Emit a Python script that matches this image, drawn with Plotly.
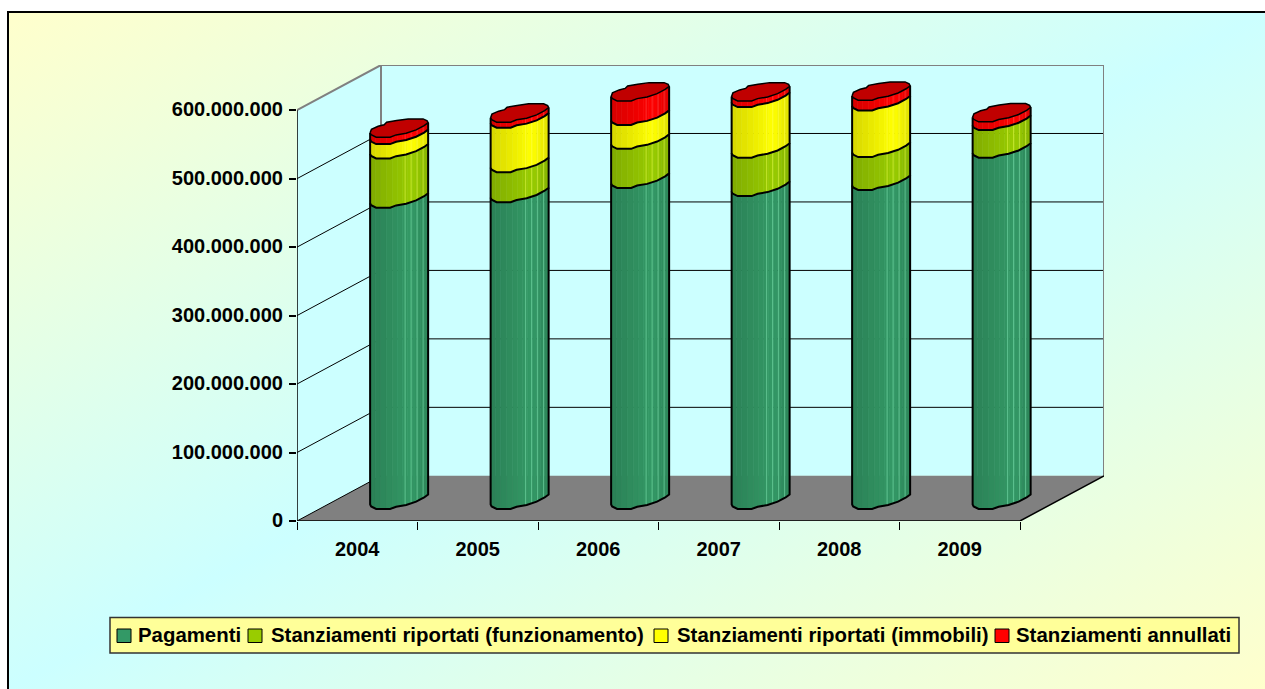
import base64
import plotly.graph_objects as go

# ---- data ----
years = ["2004", "2005", "2006", "2007", "2008", "2009"]
pagamenti = [440e6, 448e6, 469e6, 457e6, 466e6, 513e6]
funzionamento = [72e6, 44e6, 57e6, 56e6, 48e6, 40.5e6]
immobili = [21e6, 65e6, 35e6, 74e6, 68e6, 0]
annullati = [10e6, 8e6, 35e6, 9e6, 15e6, 12e6]
y_ticks = [0, 100e6, 200e6, 300e6, 400e6, 500e6, 600e6]
series_names = ["Pagamenti", "Stanziamenti riportati (funzionamento)",
                "Stanziamenti riportati (immobili)", "Stanziamenti annullati"]
series_colors = [(0x33, 0x99, 0x66), (0x99, 0xCC, 0x00), (0xFF, 0xFF, 0x00), (0xFF, 0x00, 0x00)]
series_values = [pagamenti, funzionamento, immobili, annullati]
legend_text_x = [137, 270, 676, 1015]
legend_swatch_x = [117, 248, 654, 995]

# ---- frame of the pseudo-3D box, in axis units ----
PLOT_L, PLOT_R, PLOT_T, PLOT_B = 297, 1104, 65, 521
X_MAX_FRONT = len(years)
PX_PER_X = 120.5
DEPTH_X = 84 / PX_PER_X
Y_RANGE = 666e6
PX_PER_Y = (PLOT_B - PLOT_T) / Y_RANGE
DEPTH_Y = 66e6
TOP = 600e6
FOOT_Y = 21 / PX_PER_Y

# low-poly outline of the cylinder cross-section, offsets in screen pixels (+x right, +y down)
FRONT_ARC = [(-29, 4.5), (-28, 6.5), (-23, 9), (-9, 9), (-3, 6.7), (7, 5), (17, 1.7), (25, -2.5), (29, -5.5)]
BACK_ARC = [(29, -5.5), (28, -7.5), (24, -9.3), (9, -9.3), (-2.5, -7.7), (-12.5, -5.9),
            (-15, -3.5), (-21, -2), (-27.7, 1), (-29, 4.5)]
FACET_X = [-29, -24, -19, -13, -7, -2, 3, 8, 13, 17, 21, 25, 29]
HIGHLIGHT_X = [6, 12, 18, 24]


def arc_dy(px):
    for (x0, y0), (x1, y1) in zip(FRONT_ARC, FRONT_ARC[1:]):
        if x0 <= px <= x1:
            return y0 + (y1 - y0) * (px - x0) / (x1 - x0)
    return FRONT_ARC[-1][1]


def ox(cx, dx):
    return cx + dx / PX_PER_X


def oy(base, dy):
    return base + FOOT_Y - dy / PX_PER_Y


def poly(xs, ys, fill, line=None, width=0):
    return go.Scatter(x=xs, y=ys, mode="lines", fill="toself", fillcolor=fill,
                      line=dict(color=line or fill, width=width), hoverinfo="skip",
                      showlegend=False, cliponaxis=False)


def stroke(xs, ys, color, width):
    return go.Scatter(x=xs, y=ys, mode="lines", line=dict(color=color, width=width),
                      hoverinfo="skip", showlegend=False, cliponaxis=False)


WALL = "#CCFFFF"
traces = []
traces.append(poly([0, DEPTH_X, DEPTH_X, 0], [0, DEPTH_Y, TOP + DEPTH_Y, TOP], WALL))
traces.append(poly([DEPTH_X, X_MAX_FRONT + DEPTH_X, X_MAX_FRONT + DEPTH_X, DEPTH_X],
                   [DEPTH_Y, DEPTH_Y, TOP + DEPTH_Y, TOP + DEPTH_Y], WALL))
gx, gy = [], []
for v in y_ticks[1:-1]:
    gx += [0, DEPTH_X, X_MAX_FRONT + DEPTH_X, None]
    gy += [v, v + DEPTH_Y, v + DEPTH_Y, None]
traces.append(stroke(gx, gy, "#000000", 1))
traces.append(poly([0, X_MAX_FRONT, X_MAX_FRONT + DEPTH_X, DEPTH_X],
                   [0, 0, DEPTH_Y, DEPTH_Y], "#808080"))
traces.append(stroke([0, DEPTH_X, X_MAX_FRONT + DEPTH_X, X_MAX_FRONT + DEPTH_X],
                     [TOP, TOP + DEPTH_Y, TOP + DEPTH_Y, DEPTH_Y], "#808080", 2))
traces.append(stroke([DEPTH_X, DEPTH_X], [DEPTH_Y, TOP + DEPTH_Y], "#808080", 2))
traces.append(stroke([0, 0, X_MAX_FRONT, X_MAX_FRONT + DEPTH_X],
                     [TOP, 0, 0, DEPTH_Y], "#000000", 1.5))
traces.append(stroke([0, DEPTH_X], [0, DEPTH_Y], "#000000", 1))


def shade(f):
    return 0.84 + 0.16 * f / 0.72 if f < 0.72 else 1 - 0.12 * (f - 0.72) / 0.28


cumulative = [0.0] * len(years)
tops = [sum(s[i] for s in series_values) for i in range(len(years))]
centers = [i + 0.5 + (DEPTH_X - 0.25 / PX_PER_X) / 2 for i in range(len(years))]

for s_idx, vals in enumerate(series_values):
    col = series_colors[s_idx]
    outline_x, outline_y, hi_x, hi_y = [], [], [], []
    for d0, d1 in zip(FACET_X, FACET_X[1:]):
        f = ((d0 + d1) / 2 + 29) / 58
        sh = shade(f)
        fill = "rgb(%d,%d,%d)" % tuple(round(c * sh) for c in col)
        fx, fy = [], []
        for i, v in enumerate(vals):
            if v == 0:
                continue
            cx = centers[i]
            lo, hi = cumulative[i], cumulative[i] + v
            fx += [ox(cx, d0), ox(cx, d1), ox(cx, d1), ox(cx, d0), ox(cx, d0), None]
            fy += [oy(lo, arc_dy(d0)), oy(lo, arc_dy(d1)), oy(hi, arc_dy(d1)), oy(hi, arc_dy(d0)),
                   oy(lo, arc_dy(d0)), None]
        traces.append(poly(fx, fy, fill, width=0.6))
    for i, v in enumerate(vals):
        if v == 0:
            continue
        cx = centers[i]
        lo, hi = cumulative[i], cumulative[i] + v
        for d in HIGHLIGHT_X:
            hi_x += [ox(cx, d), ox(cx, d), None]
            hi_y += [oy(lo, arc_dy(d)), oy(hi, arc_dy(d)), None]
        outline_x += [ox(cx, FRONT_ARC[0][0])] + [ox(cx, p[0]) for p in FRONT_ARC] + [ox(cx, FRONT_ARC[-1][0]), None]
        outline_y += [oy(hi, FRONT_ARC[0][1])] + [oy(lo, p[1]) for p in FRONT_ARC] + [oy(hi, FRONT_ARC[-1][1]), None]
        cumulative[i] = hi
    light = "rgba(%d,%d,%d,0.55)" % tuple(min(255, c + 80) for c in col)
    traces.append(stroke(hi_x, hi_y, light, 1))
    traces.append(stroke(outline_x, outline_y, "#000000", 2))

cap_x, cap_y = [], []
ring = FRONT_ARC + BACK_ARC[1:]
for i, top in enumerate(tops):
    cap_x += [ox(centers[i], p[0]) for p in ring] + [None]
    cap_y += [oy(top, p[1]) for p in ring] + [None]
traces.append(poly(cap_x, cap_y, "#C00000", line="#000000", width=1.5))

fig = go.Figure(traces)

W, H = 1265, 689


def pxx(px):
    return (px - PLOT_L) / (PLOT_R - PLOT_L)


def pxy(py):
    return (PLOT_B - py) / (PLOT_B - PLOT_T)


svg = ('<svg xmlns="http://www.w3.org/2000/svg" width="1257" height="677" preserveAspectRatio="none">'
       '<defs><linearGradient id="g" x1="0" y1="0" x2="1" y2="1">'
       '<stop offset="0" stop-color="#FFFFCC"/><stop offset="0.5" stop-color="#CCFFFF"/>'
       '<stop offset="1" stop-color="#FFFFCC"/></linearGradient></defs>'
       '<rect width="1257" height="677" fill="url(#g)"/></svg>')
bg = "data:image/svg+xml;base64," + base64.b64encode(svg.encode()).decode()

shapes = [
    dict(type="rect", xref="paper", yref="paper", x0=pxx(8), x1=pxx(1275), y0=pxy(699), y1=pxy(12),
         line=dict(color="#000000", width=2), layer="below"),
    dict(type="rect", xref="paper", yref="paper", x0=pxx(110), x1=pxx(1239), y0=pxy(653), y1=pxy(617.5),
         fillcolor="#FFFF99", line=dict(color="#333333", width=1.5)),
]
annotations = []
for name, col, tx, sx in zip(series_names, series_colors, legend_text_x, legend_swatch_x):
    shapes.append(dict(type="rect", xref="paper", yref="paper", x0=pxx(sx), x1=pxx(sx + 14),
                       y0=pxy(642.5), y1=pxy(629), fillcolor="rgb(%d,%d,%d)" % col,
                       line=dict(color="#000000", width=1)))
    annotations.append(dict(text=name, xref="paper", yref="paper", x=pxx(tx), y=pxy(635),
                            xanchor="left", yanchor="middle", showarrow=False, borderpad=0,
                            font=dict(family="Liberation Sans", size=20.4, color="#000000", weight=700)))

fig.update_layout(
    width=W, height=H, autosize=False,
    margin=dict(l=PLOT_L, r=W - PLOT_R, t=PLOT_T, b=H - PLOT_B, pad=0),
    paper_bgcolor="#FFFFFF", plot_bgcolor="rgba(0,0,0,0)",
    separators=",.", showlegend=False,
    font=dict(family="Liberation Sans", size=20, color="#000000", weight=700),
    images=[dict(source=bg, xref="paper", yref="paper", x=pxx(8), y=pxy(12),
                 sizex=(W - 8) / (PLOT_R - PLOT_L), sizey=(H - 12) / (PLOT_B - PLOT_T),
                 xanchor="left", yanchor="top", sizing="stretch", layer="below")],
    shapes=shapes, annotations=annotations,
    xaxis=dict(range=[0, X_MAX_FRONT + DEPTH_X], tickmode="array",
               tickvals=[i + 0.5 for i in range(len(years))], ticktext=years,
               ticks="outside", ticklen=10, tickcolor="rgba(0,0,0,0)", showgrid=False, zeroline=False,
               showline=False, fixedrange=True, tickangle=0,
               minor=dict(tickmode="array", tickvals=list(range(len(years) + 1)), ticks="outside",
                          ticklen=8, tickcolor="#000000", tickwidth=1, showgrid=False)),
    yaxis=dict(range=[0, Y_RANGE], tickmode="array", tickvals=y_ticks, tickformat=",d",
               ticks="outside", ticklen=7, tickcolor="#000000", tickwidth=1.5, showgrid=False,
               zeroline=False, showline=False, fixedrange=True, ticklabelstandoff=2, ticklabelshift=-1),
)

fig.write_html("out.html", config=dict(displayModeBar=False),
               post_script="document.body.style.margin='0';document.body.style.overflow='hidden';")
